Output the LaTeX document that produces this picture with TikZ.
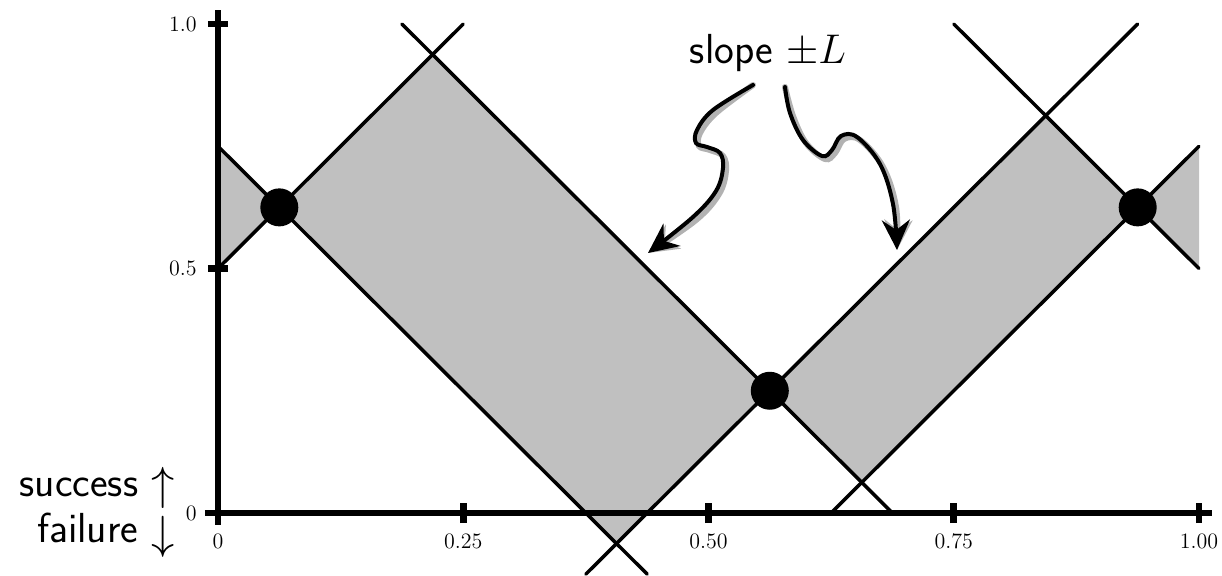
\documentclass[tikz,border=0pt]{standalone}
\usepackage{graphicx}
\usetikzlibrary{arrows.meta}
\definecolor{band}{RGB}{192,192,192}
\begin{document}
\begin{tikzpicture}[x=490.5pt,y=244.5pt,
  bound/.style={line width=1.75pt, line cap=round},
  axisline/.style={line width=3.4pt},
  tickmark/.style={line width=3.3pt},
  ticklabel/.style={font=\fontsize{11}{13}\selectfont, inner sep=0pt},
  bigdot/.style={circle, fill=black, minimum size=19pt, inner sep=0pt},
  bigtext/.style={font=\fontsize{21}{25}\selectfont, inner sep=0pt},
  pointer/.style={line width=2pt, line cap=round, -{Stealth[length=15pt,width=14pt,inset=5pt]}},
  pointershadow/.style={line width=3pt, line cap=round, draw=black!30, -{Stealth[length=15pt,width=14pt,inset=5pt]}}
]
\useasboundingbox (-109pt,-31pt) rectangle (502pt,256.5pt);

% shaded bands
\fill[band] (0,0.75) -- (0.0625,0.625) -- (0,0.5) -- cycle;
\fill[band] (0.0625,0.625) -- (0.21875,0.9375) -- (0.5625,0.25) -- (0.40625,-0.0625) -- cycle;
\fill[band] (0.5625,0.25) -- (0.84375,0.8125) -- (0.9375,0.625) -- (0.65625,0.0625) -- cycle;
\fill[band] (0.9375,0.625) -- (1,0.75) -- (1,0.5) -- cycle;

% boundary lines (slope +-L)
\draw[bound] (0,0.75) -- (0.4375,-0.125);
\draw[bound] (0,0.5) -- (0.25,1);
\draw[bound] (0.1875,1) -- (0.6875,0);
\draw[bound] (0.375,-0.125) -- (0.9375,1);
\draw[bound] (0.75,1) -- (1,0.5);
\draw[bound] (0.625,0) -- (1,0.75);

% axes
\draw[axisline] (-0.0133,0) -- (1.0133,0);
\draw[axisline] (0,-0.0245) -- (0,1.0286);
\foreach \xv/\xl in {0.25/0.25,0.5/0.50,0.75/0.75,1/1.00}{
  \draw[tickmark] (\xv,0) ++(0,-5pt) -- ++(0,10pt);
  \node[ticklabel, anchor=base] (xl\xv) at ([yshift=-17.5pt]\xv,0) {\xl};
}
\node[ticklabel, anchor=base] (xl0) at ([yshift=-17.5pt]0,0) {0};
\foreach \yv/\yl in {0.5/0.5,1/1.0}{
  \draw[tickmark] (0,\yv) ++(-5pt,0) -- ++(10pt,0);
  \node[ticklabel, anchor=east] (yl\yv) at ([xshift=-10.5pt]0,\yv) {\yl};
}
\node[ticklabel, anchor=east] (yl0) at ([xshift=-10.5pt]0,0) {0};

% intersection dots
\node[bigdot] (d1) at (0.0625,0.625) {};
\node[bigdot] (d2) at (0.5625,0.25) {};
\node[bigdot] (d3) at (0.9375,0.625) {};

% annotations in pixel coordinates
\begin{scope}[x=0.5pt,y=-0.5pt,shift={(-218,-513)}]
  \node[bigtext, anchor=base] (slope) at (768,63) {\sffamily slope $\pm L$};
  \node[bigtext, anchor=base east] (succ) at (175,496) {\sffamily success \raisebox{-1.5pt}{\scalebox{1.12}{$\uparrow$}}};
  \node[bigtext, anchor=base east] (fail) at (175,542) {\sffamily failure \raisebox{-3pt}{\scalebox{1.12}{$\downarrow$}}};
  \coordinate (a1s) at (753,85);
  \coordinate (a1e) at (648,253);
  \coordinate (a2s) at (785,87);
  \coordinate (a2e) at (897,250);
  \begin{scope}[shift={(3,3)}]
    \draw[pointershadow] plot[smooth, tension=0.6] coordinates {(a1s) (713,110) (697,130) (696,143) (707,147) (720,153) (723,168) (716,191) (693,217) (a1e)};
    \draw[pointershadow] plot[smooth, tension=0.6] coordinates {(a2s) (790,113) (803,140) (822,156) (832,150) (841,136) (857,137) (880,164) (893,204) (a2e)};
  \end{scope}
  \draw[pointer] plot[smooth, tension=0.6] coordinates {(a1s) (713,110) (697,130) (696,143) (707,147) (720,153) (723,168) (716,191) (693,217) (a1e)};
  \draw[pointer] plot[smooth, tension=0.6] coordinates {(a2s) (790,113) (803,140) (822,156) (832,150) (841,136) (857,137) (880,164) (893,204) (a2e)};
\end{scope}
\end{tikzpicture}
\end{document}
